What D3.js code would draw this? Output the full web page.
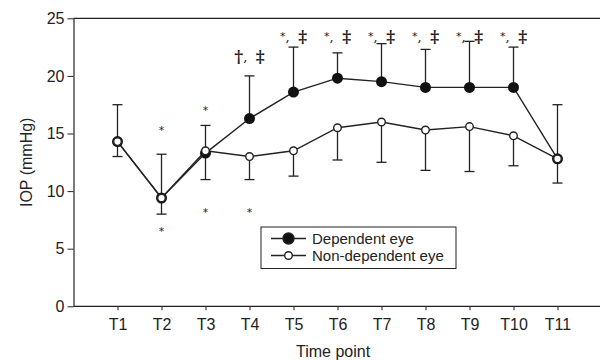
<!DOCTYPE html>
<html>
<head>
<meta charset="utf-8">
<script src="https://cdn.jsdelivr.net/npm/d3@7"></script>
<style>
  body { margin: 0; background: #fff; }
  svg { display: block; }
</style>
</head>
<body>
<div id="chart"></div>
<script>
// time points and series (mean IOP, mmHg)
var timePoints = ["T1", "T2", "T3", "T4", "T5", "T6", "T7", "T8", "T9", "T10", "T11"];
var dependentMean = [14.3, 9.4, 13.3, 16.3, 18.6, 19.8, 19.5, 19.0, 19.0, 19.0, 12.8];
var dependentUpper = [17.5, 13.2, 15.7, 20.0, 22.5, 22.0, 22.8, 22.3, 23.0, 22.5, 17.5];
var nonDependentMean = [14.3, 9.4, 13.5, 13.0, 13.5, 15.5, 16.0, 15.3, 15.6, 14.8, 12.8];
var nonDependentLower = [13.0, 8.0, 11.0, 11.0, 11.3, 12.7, 12.5, 11.8, 11.7, 12.2, 10.7];

// significance marks above and below the points
var sigAboveText = ["", "*", "*", "†, ‡", "*, ‡", "*, ‡", "*, ‡", "*, ‡", "*, ‡", "*, ‡", ""];
var sigAboveLevel = [null, 15.3, 17.0, 21.7, 23.5, 23.5, 23.5, 23.5, 23.5, 23.5, null];
var sigBelowText = ["", "*", "*", "*", "", "", "", "", "", "", ""];
var sigBelowLevel = [null, 6.5, 8.2, 8.2, null, null, null, null, null, null, null];

var yTicks = [0, 5, 10, 15, 20, 25];

var width = 600, height = 360;
var ink = "#222";

var svg = d3.select("#chart").append("svg")
    .attr("width", width)
    .attr("height", height)
    .style("font-family", "Liberation Sans, Arial, sans-serif");

var x = d3.scaleLinear().domain([0, 12]).range([73.5, 601.5]);
var y = d3.scaleLinear().domain([0, 25]).range([306.3, 18.3]);

// top frame line
svg.append("line")
    .attr("x1", x(0)).attr("x2", width)
    .attr("y1", y(25)).attr("y2", y(25))
    .attr("stroke", ink).attr("stroke-width", 1.2);

var xAxis = svg.append("g")
    .attr("transform", "translate(0," + y(0) + ")")
    .call(d3.axisBottom(x)
        .tickValues(d3.range(1, 12))
        .tickFormat(function (d) { return timePoints[d - 1]; })
        .tickSize(4)
        .tickSizeOuter(0));
xAxis.select(".domain").attr("stroke", ink).attr("stroke-width", 1.2)
    .attr("d", "M" + x(0) + ",0H" + width);
xAxis.selectAll(".tick line").attr("stroke", ink);
xAxis.selectAll("text")
    .attr("fill", ink)
    .attr("dy", "1.05em")
    .style("font-size", "16px");

var yAxis = svg.append("g")
    .attr("transform", "translate(" + x(0) + ",0)")
    .call(d3.axisLeft(y).tickValues(yTicks).tickSize(6).tickSizeOuter(0));
yAxis.select(".domain").attr("stroke", ink).attr("stroke-width", 1.2);
yAxis.selectAll(".tick line").attr("stroke", ink);
yAxis.selectAll("text")
    .attr("fill", ink)
    .attr("x", -9)
    .style("font-size", "16px");

svg.append("text")
    .attr("x", x(5.9)).attr("y", 357)
    .attr("text-anchor", "middle")
    .attr("fill", ink)
    .style("font-size", "16px")
    .text("Time point");

svg.append("text")
    .attr("transform", "translate(32," + y(12.5) + ") rotate(-90)")
    .attr("text-anchor", "middle")
    .attr("fill", ink)
    .style("font-size", "16px")
    .text("IOP (mmHg)");

var idx = d3.range(timePoints.length);
var cap = 5;

// error bars: dependent upward, non-dependent downward
var bars = svg.append("g").attr("stroke", ink).attr("stroke-width", 1.3);
idx.forEach(function (i) {
    var cx = x(i + 1);
    bars.append("line").attr("x1", cx).attr("x2", cx)
        .attr("y1", y(dependentMean[i])).attr("y2", y(dependentUpper[i]));
    bars.append("line").attr("x1", cx - cap).attr("x2", cx + cap)
        .attr("y1", y(dependentUpper[i])).attr("y2", y(dependentUpper[i]));
    bars.append("line").attr("x1", cx).attr("x2", cx)
        .attr("y1", y(nonDependentMean[i])).attr("y2", y(nonDependentLower[i]));
    bars.append("line").attr("x1", cx - cap).attr("x2", cx + cap)
        .attr("y1", y(nonDependentLower[i])).attr("y2", y(nonDependentLower[i]));
});

var line = d3.line()
    .x(function (d, i) { return x(i + 1); })
    .y(function (d) { return y(d); });

svg.append("path").datum(nonDependentMean)
    .attr("d", line).attr("fill", "none")
    .attr("stroke", ink).attr("stroke-width", 1.4);
svg.append("path").datum(dependentMean)
    .attr("d", line).attr("fill", "none")
    .attr("stroke", ink).attr("stroke-width", 1.4);

svg.append("g").selectAll("circle")
    .data(dependentMean).enter().append("circle")
    .attr("cx", function (d, i) { return x(i + 1); })
    .attr("cy", function (d) { return y(d); })
    .attr("r", 5.5)
    .attr("fill", "#111");

svg.append("g").selectAll("circle")
    .data(nonDependentMean).enter().append("circle")
    .attr("cx", function (d, i) { return x(i + 1); })
    .attr("cy", function (d) { return y(d); })
    .attr("r", 3.8)
    .attr("fill", "#fff")
    .attr("stroke", ink)
    .attr("stroke-width", 1.4);

// significance annotations
function drawMarks(texts, levels) {
    idx.forEach(function (i) {
        if (!texts[i]) return;
        var t = svg.append("text")
            .attr("x", x(i + 1))
            .attr("y", y(levels[i]))
            .attr("text-anchor", "middle")
            .attr("dominant-baseline", "central")
            .attr("fill", ink)
            .style("font-family", "DejaVu Serif, serif")
            .style("font-weight", "bold")
            .style("font-size", "17px");
        Array.from(texts[i]).forEach(function (ch) {
            var s = t.append("tspan").attr("fill", ink);
            if (ch === "*") {
                s.style("font-family", "DejaVu Sans, sans-serif")
                    .style("font-weight", "normal")
                    .style("font-size", "11px").text(ch);
            } else if (ch === " ") {
                s.text("\u2002");
            } else if (ch === ",") {
                s.style("font-weight", "normal").style("font-size", "13px").text(ch);
            } else {
                s.text(ch);
            }
        });
    });
}
drawMarks(sigAboveText, sigAboveLevel);
drawMarks(sigBelowText, sigBelowLevel);

// legend
var legend = svg.append("g").attr("transform", "translate(261,227)");
legend.append("rect")
    .attr("width", 195).attr("height", 41.5)
    .attr("fill", "#fff").attr("stroke", ink).attr("stroke-width", 1);
var legendItems = [
    {label: "Dependent eye", r: 5.5, fill: "#111"},
    {label: "Non-dependent eye", r: 3.8, fill: "#fff"}
];
legendItems.forEach(function (it, i) {
    var ly = 11.5 + i * 17;
    legend.append("line").attr("x1", 10).attr("x2", 45)
        .attr("y1", ly).attr("y2", ly)
        .attr("stroke", ink).attr("stroke-width", 1.4);
    legend.append("circle").attr("cx", 27.5).attr("cy", ly).attr("r", it.r)
        .attr("fill", it.fill).attr("stroke", ink).attr("stroke-width", 1.4);
    legend.append("text").attr("x", 51).attr("y", ly)
        .attr("dominant-baseline", "central")
        .attr("fill", ink)
        .style("font-size", "15px")
        .text(it.label);
});
</script>
</body>
</html>
